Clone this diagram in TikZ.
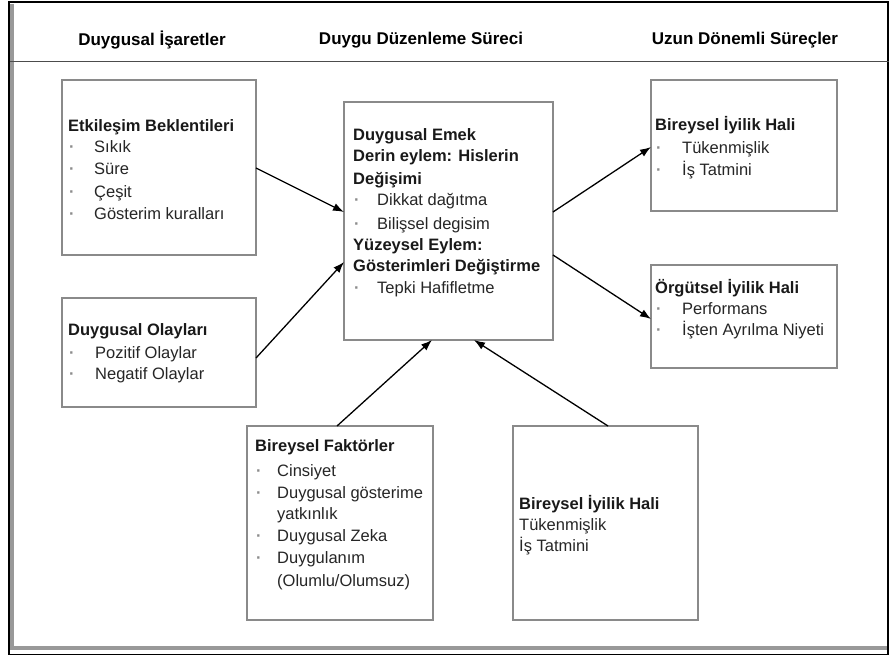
\documentclass[tikz,border=0pt]{standalone}
\usepackage{fontspec}
\setmainfont{Liberation Sans}
\usetikzlibrary{arrows.meta,calc}
\begin{document}
\begin{tikzpicture}[x=1pt,y=-1pt,
  box/.style={draw=boxgray,line width=1.4pt,inner sep=0pt,outer sep=0pt,fill=white},
  hdr/.style={font=\fontsize{17}{20}\selectfont\bfseries,text=black,inner sep=0pt},
  ttl/.style={anchor=base west,inner sep=0pt,font=\fontsize{16.5}{20}\selectfont\bfseries,text=black!90},
  itm/.style={anchor=base west,inner sep=0pt,font=\fontsize{16.5}{20}\selectfont,text=black!85},
  bul/.style={anchor=base west,inner sep=0pt,font=\fontsize{16.5}{20}\selectfont\bfseries,text=black!45},
  arr/.style={line width=1.3pt,draw=black,-{Latex[length=11pt,width=8pt]}}]
\definecolor{boxgray}{HTML}{8A8A8A}
\useasboundingbox (0,0) rectangle (889,656);
% frame
\draw[line width=3.5pt,draw=black!40] (12,4) -- (12,648) -- (889,648);
\draw[line width=1.6pt,draw=black] (9,2) rectangle (888,654.5);
\draw[line width=1pt,draw=black!70] (10,61) -- (889,61);
% headers
\node[hdr] (h1) at (152,40) {Duygusal İşaretler};
\node[hdr] (h2) at (421,40) {Duygu Düzenleme Süreci};
\node[hdr] (h3) at (745,40) {Uzun Dönemli Süreçler};
% boxes
\node[box,minimum width=194pt,minimum height=175pt] (A) at (159,167.5) {};
\node[box,minimum width=194pt,minimum height=109pt] (B) at (159,352.5) {};
\node[box,minimum width=209pt,minimum height=238pt] (C) at (448.5,221) {};
\node[box,minimum width=186pt,minimum height=131pt] (D) at (744,145.5) {};
\node[box,minimum width=186pt,minimum height=103pt] (E) at (744,316.5) {};
\node[box,minimum width=186pt,minimum height=194pt] (F) at (340,523) {};
\node[box,minimum width=185pt,minimum height=194pt] (G) at (605.5,523) {};
% box A
\node[ttl] (a0) at (68,131) {Etkileşim Beklentileri};
\node[bul] (ab1) at (69,152) {·};
\node[itm] (a1) at (94,152) {Sıkık};
\node[bul] (ab2) at (69,174) {·};
\node[itm] (a2) at (94,174) {Süre};
\node[bul] (ab3) at (69,197) {·};
\node[itm] (a3) at (94,197) {Çeşit};
\node[bul] (ab4) at (69,219) {·};
\node[itm] (a4) at (94,219) {Gösterim kuralları};
% box B
\node[ttl] (b0) at (68,335) {Duygusal Olayları};
\node[bul] (bb1) at (69,358) {·};
\node[itm] (b1) at (95,358) {Pozitif Olaylar};
\node[bul] (bb2) at (69,379) {·};
\node[itm] (b2) at (95,379) {Negatif Olaylar};
% box C
\node[ttl] (c0) at (353,140) {Duygusal Emek};
\node[ttl] (c1) at (353,161) {Derin eylem: Hislerin};
\node[ttl] (c2) at (353,184) {Değişimi};
\node[bul] (cb1) at (354,205) {·};
\node[itm] (c3) at (377,205) {Dikkat dağıtma};
\node[bul] (cb2) at (354,229) {·};
\node[itm] (c4) at (377,229) {Bilişsel degisim};
\node[ttl] (c5) at (353,250) {Yüzeysel Eylem:};
\node[ttl] (c6) at (353,271) {Gösterimleri Değiştirme};
\node[bul] (cb3) at (354,293) {·};
\node[itm] (c7) at (377,293) {Tepki Hafifletme};
% box D
\node[ttl] (d0) at (655,130) {Bireysel İyilik Hali};
\node[bul] (db1) at (656,153) {·};
\node[itm] (d1) at (682,153) {Tükenmişlik};
\node[bul] (db2) at (656,175) {·};
\node[itm] (d2) at (682,175) {İş Tatmini};
% box E
\node[ttl] (e0) at (655,293) {Örgütsel İyilik Hali};
\node[bul] (eb1) at (656,314) {·};
\node[itm] (e1) at (682,314) {Performans};
\node[bul] (eb2) at (656,335) {·};
\node[itm] (e2) at (682,335) {İşten Ayrılma Niyeti};
% box F
\node[ttl] (f0) at (255,451) {Bireysel Faktörler};
\node[bul] (fb1) at (256,476) {·};
\node[itm] (f1) at (277,476) {Cinsiyet};
\node[bul] (fb2) at (256,498) {·};
\node[itm] (f2) at (277,498) {Duygusal gösterime};
\node[itm] (f3) at (277,519) {yatkınlık};
\node[bul] (fb3) at (256,541) {·};
\node[itm] (f4) at (277,541) {Duygusal Zeka};
\node[bul] (fb4) at (256,563) {·};
\node[itm] (f5) at (277,563) {Duygulanım};
\node[itm] (f6) at (277,586) {(Olumlu/Olumsuz)};
% box G
\node[ttl] (g0) at (519,509) {Bireysel İyilik Hali};
\node[itm] (g1) at (519,530) {Tükenmişlik};
\node[itm] (g2) at (519,551) {İş Tatmini};
% arrows
\draw[arr] ($(A.north east)+(0,88)$) -- ($(C.north west)+(0,110)$);
\draw[arr] ($(B.north east)+(0,60)$) -- ($(C.north west)+(0,160)$);
\draw[arr] ($(C.north east)+(0,110)$) -- ($(D.north west)+(0,67)$);
\draw[arr] ($(C.north east)+(0,153)$) -- ($(E.north west)+(0,54)$);
\draw[arr] ($(F.north west)+(90,0)$) -- ($(C.south west)+(88,0)$);
\draw[arr] ($(G.north west)+(95,0)$) -- ($(C.south west)+(130,0)$);
\end{tikzpicture}
\end{document}
